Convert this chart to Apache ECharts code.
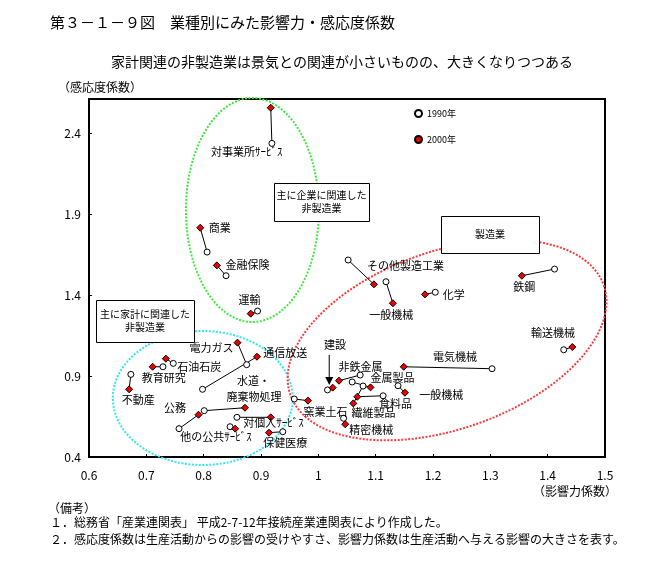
<!DOCTYPE html>
<html><head><meta charset="utf-8">
<script src="https://cdn.jsdelivr.net/npm/echarts/dist/echarts.min.js"></script>
<style>html,body{margin:0;padding:0;background:#fff}#c{width:669px;height:569px}</style>
</head><body><div id="c"></div>
<script>
// ---- data ----
const sectors = ['対事業所ｻｰﾋﾞｽ','商業','金融保険','運輸','電力ガス','通信放送','石油石炭','教育研究','不動産','水道・廃棄物処理','公務','他の公共ｻｰﾋﾞｽ','対個人ｻｰﾋﾞｽ','保健医療','窯業土石','建設','非鉄金属','金属製品','繊維製品','食料品','一般機械','精密機械','電気機械','その他製造工業','一般機械','化学','鉄鋼','輸送機械'];
const x1990 = [0.919,0.806,0.839,0.894,0.875,0.798,0.747,0.729,0.673,0.801,0.757,0.846,0.858,0.938,0.958,1.016,1.073,1.059,1.078,1.113,1.139,1.044,1.303,1.052,1.118,1.204,1.412,1.428];
const y1990 = [2.336,1.665,1.519,1.301,0.970,0.818,0.978,0.957,0.910,0.686,0.575,0.587,0.645,0.556,0.758,0.814,0.906,0.863,0.838,0.778,0.840,0.639,0.945,1.616,1.482,1.417,1.560,1.062];
const x2000 = [0.917,0.794,0.823,0.882,0.859,0.893,0.734,0.711,0.670,0.872,0.791,0.855,0.917,0.914,0.982,1.025,1.036,1.091,1.061,1.068,1.151,1.047,1.149,1.097,1.130,1.186,1.355,1.443];
const y2000 = [2.556,1.815,1.583,1.285,1.106,1.019,1.007,0.957,0.818,0.704,0.661,0.575,0.645,0.550,0.748,0.828,0.871,0.830,0.731,0.772,0.797,0.602,0.957,1.466,1.349,1.404,1.519,1.079];
const seriesNames = ['1990年','2000年'];
const xAxisMin = 0.6, xAxisMax = 1.5, xInterval = 0.1;
const yAxisMin = 0.4, yAxisMax = 2.61, yInterval = 0.5;

// ---- text annotations (anchors in data units) ----
const labelTexts = [
  ['対事業所ｻｰﾋﾞｽ',0.875,2.281,'center'],['商業',0.809,1.815,'left'],['金融保険',0.838,1.585,'left'],
  ['運輸',0.880,1.369,'center'],['電力ガス',0.852,1.071,'right'],['通信放送',0.904,1.044,'left'],
  ['石油石炭',0.754,0.957,'left'],['教育研究',0.692,0.886,'left'],['不動産',0.657,0.752,'left'],
  ['水道・',0.858,0.869,'left'],['廃棄物処理',0.840,0.772,'left'],['公務',0.731,0.701,'left'],
  ['対個人ｻｰﾋﾞｽ',0.869,0.608,'left'],['他の公共ｻｰﾋﾞｽ',0.759,0.525,'left'],['保健医療',0.904,0.485,'left'],
  ['窯業土石',0.974,0.680,'left'],['その他製造工業',1.085,1.579,'left'],['一般機械',1.089,1.277,'left'],
  ['化学',1.217,1.404,'left'],['建設',1.010,1.091,'left'],['非鉄金属',1.035,0.954,'left'],
  ['金属製品',1.091,0.886,'left'],['一般機械',1.176,0.781,'left'],['食料品',1.106,0.731,'left'],
  ['繊維製品',1.058,0.670,'left'],['精密機械',1.054,0.567,'left'],['電気機械',1.200,1.019,'left'],
  ['鉄鋼',1.340,1.451,'left'],['輸送機械',1.371,1.164,'left']
];
const boxes = [
  {x0:0.9227,y0:2.0914,x1:1.088,y1:1.857,lines:['主に企業に関連した','非製造業']},
  {x0:0.6122,y0:1.369,x1:0.7830,y1:1.110,lines:['主に家計に関連した','非製造業']},
  {x0:1.214,y0:1.888,x1:1.385,y1:1.659,lines:['製造業']}
];
const ellipses = [
  {cx:0.885,cy:1.925,a:66.5,b:112,deg:0,color:'#3ee83e'},
  {cx:0.7985,cy:0.764,a:90,b:67,deg:0,color:'#33e6f0'},
  {cx:1.2245,cy:1.122,a:166,b:89,deg:19.3,color:'#ff3b3b'}
];
const arrow = {x:1.019,yFrom:1.030,yTo:0.845};

const FONT = '"Noto Sans CJK JP", sans-serif';
const chart = echarts.init(document.getElementById('c'), null, {renderer:'canvas'});

const series = [];
sectors.forEach((s,i)=>{
  series.push({type:'line', data:[[x1990[i],y1990[i]],[x2000[i],y2000[i]]], symbol:'none',
    lineStyle:{color:'#000',width:1}, silent:true, z:2, animation:false});
});
series.push({name:seriesNames[0], type:'scatter', data:sectors.map((s,i)=>[x1990[i],y1990[i]]),
  symbol:'circle', symbolSize:6, itemStyle:{color:'#fff',borderColor:'#000',borderWidth:1,opacity:1}, z:3});
series.push({name:seriesNames[1], type:'scatter', data:sectors.map((s,i)=>[x2000[i],y2000[i]]),
  symbol:'diamond', symbolSize:7, itemStyle:{color:'#ee0000',borderColor:'#000',borderWidth:1,opacity:1}, z:4});

chart.setOption({
  animation:false,
  backgroundColor:'#fff',
  grid:{left:89,right:64,top:99,bottom:112,show:true,borderColor:'#000',borderWidth:2,backgroundColor:'transparent'},
  xAxis:{type:'value',min:xAxisMin,max:xAxisMax,interval:xInterval,
    axisLine:{show:true,lineStyle:{color:'#000',width:2}},
    axisTick:{show:true,inside:true,length:3,lineStyle:{color:'#000'}},
    splitLine:{show:false},
    axisLabel:{color:'#000',fontSize:12,fontFamily:FONT,margin:12}},
  yAxis:{type:'value',min:yAxisMin,max:yAxisMax,interval:yInterval,
    axisLine:{show:true,lineStyle:{color:'#000',width:2}},
    axisTick:{show:true,inside:true,length:3,lineStyle:{color:'#000'}},
    splitLine:{show:false},
    axisLabel:{color:'#000',fontSize:12,fontFamily:FONT,margin:8,showMaxLabel:false}},
  legend:{orient:'vertical',left:409,top:104,itemWidth:7,itemHeight:7,itemGap:17,
    data:[{name:seriesNames[0],icon:'circle'},{name:seriesNames[1],icon:'circle'}],
    textStyle:{fontSize:9,color:'#000',fontFamily:FONT}},
  series
});

function P(x,y){return chart.convertToPixel({gridIndex:0},[x,y]);}
const g = [];
// ellipses
ellipses.forEach(e=>{
  const c = P(e.cx,e.cy), th = e.deg*Math.PI/180, pts=[];
  for(let k=0;k<=180;k++){const t=k/180*2*Math.PI;
    pts.push([c[0]+e.a*Math.cos(t)*Math.cos(th)+e.b*Math.sin(t)*Math.sin(th),
              c[1]-e.a*Math.cos(t)*Math.sin(th)+e.b*Math.sin(t)*Math.cos(th)]);}
  g.push({type:'polyline',shape:{points:pts},z:1,silent:true,
    style:{stroke:e.color,lineWidth:2,lineDash:[2,1.5],fill:null}});
});
// boxes
boxes.forEach(b=>{
  const p0=P(b.x0,b.y0), p1=P(b.x1,b.y1);
  g.push({type:'rect',shape:{x:Math.round(p0[0])+0.5,y:Math.round(p0[1])+0.5,width:Math.round(p1[0]-p0[0]),height:Math.round(p1[1]-p0[1])},
    z:10,style:{fill:'#fff',stroke:'#000',lineWidth:1}});
  const cx=(p0[0]+p1[0])/2, cy=(p0[1]+p1[1])/2, n=b.lines.length;
  b.lines.forEach((t,j)=>{
    g.push({type:'text',x:cx,y:cy+(j-(n-1)/2)*13,z:11,
      style:{text:t,fontSize:10,fontFamily:FONT,fill:'#000',align:'center',verticalAlign:'middle'}});
  });
});
// point labels
labelTexts.forEach(l=>{
  const p=P(l[1],l[2]);
  g.push({type:'text',x:p[0],y:p[1],z:12,silent:true,
    style:{text:l[0],fontSize:11,fontFamily:FONT,fill:'#000',align:l[3],verticalAlign:'middle'}});
});
// arrow for 建設
{
  const a=P(arrow.x,arrow.yFrom), b=P(arrow.x,arrow.yTo);
  g.push({type:'line',shape:{x1:a[0],y1:a[1],x2:b[0],y2:b[1]-6},z:12,style:{stroke:'#000',lineWidth:1}});
  g.push({type:'polygon',shape:{points:[[b[0]-4,b[1]-8],[b[0]+4,b[1]-8],[b[0],b[1]]]},z:12,style:{fill:'#000'}});
}
// titles and notes
const texts = [
  ['第３－１－９図　業種別にみた影響力・感応度係数',50,22,'left',15],
  ['家計関連の非製造業は景気との関連が小さいものの、大きくなりつつある',342,62,'center',14],
  ['（感応度係数）',58,87,'left',12],
  ['（影響力係数）',617,491,'right',12],
  ['（備考）',48,508,'left',12],
  ['１．総務省「産業連関表」 平成2-7-12年接続産業連関表により作成した。',50,522,'left',12],
  ['２．感応度係数は生産活動からの影響の受けやすさ、影響力係数は生産活動へ与える影響の大きさを表す。',50,539,'left',12]
];
texts.forEach(t=>g.push({type:'text',x:t[1],y:t[2],z:12,
  style:{text:t[0],fontSize:t[4],fontFamily:FONT,fill:'#000',align:t[3],verticalAlign:'middle'}}));
chart.setOption({graphic:{elements:g}});
</script></body></html>
